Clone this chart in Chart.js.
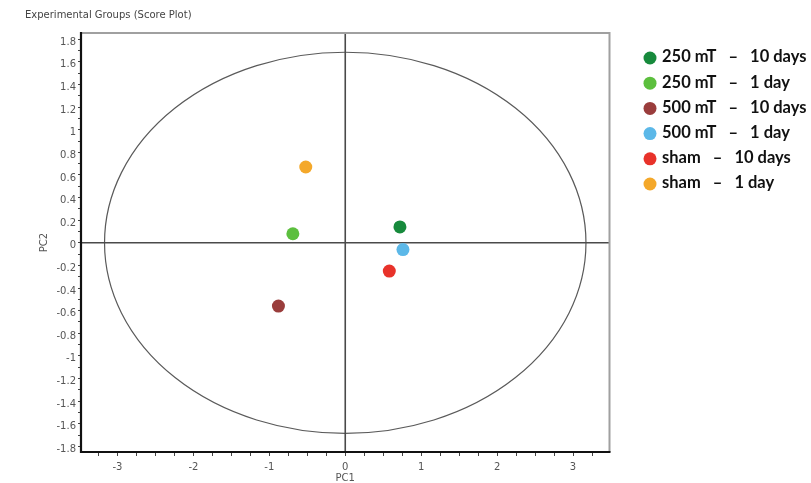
<!DOCTYPE html>
<html>
<head>
<meta charset="utf-8">
<title>Experimental Groups (Score Plot)</title>
<script src="https://cdn.jsdelivr.net/npm/chart.js@4.4.1/dist/chart.umd.min.js"></script>
<style>
  html, body { margin: 0; padding: 0; background: #ffffff; }
  #wrap { width: 811px; height: 483px; position: relative; }
</style>
</head>
<body>
<div id="wrap"><canvas id="score" width="811" height="483"></canvas></div>
<script>
// Score plot groups and their coordinates on the first two principal components
const groups = ['250 mT   \u2013   10 days', '250 mT   \u2013   1 day', '500 mT   \u2013   10 days',
                '500 mT   \u2013   1 day', 'sham   \u2013   10 days', 'sham   \u2013   1 day'];
const pc1 = [0.72, -0.69, -0.88, 0.76, 0.58, -0.52];
const pc2 = [0.14, 0.08, -0.56, -0.06, -0.25, 0.67];
const groupColors = ['#178a3c', '#5cbf3e', '#9a3d3c', '#5cb8e8', '#e8322a', '#f4a82a'];

// Hotelling T2 confidence ellipse (semi-axes in PC units)
const ellipseRx = 3.17;
const ellipseRy = 1.685;

// Axis ranges and tick positions
const xRange = [-3.48, 3.48];
const yRange = [-1.85, 1.855];
const xTickValues = [];
for (let i = -13; i <= 13; i++) xTickValues.push(i * 0.25);
const yTickValues = [];
for (let i = -18; i <= 18; i++) yTickValues.push(i / 10);

const TEXT_GREY = '#555555';

const datasets = groups.map((g, i) => ({
  label: g,
  data: [{ x: pc1[i], y: pc2[i] }],
  backgroundColor: groupColors[i],
  borderColor: groupColors[i],
  borderWidth: 0,
  pointRadius: 6.5,
  pointHoverRadius: 6.5
}));

// Ellipse, zero lines and plot frame
const decorations = {
  id: 'decorations',
  beforeDatasetsDraw(chart) {
    const { ctx, chartArea: a, scales: { x, y } } = chart;
    const cx = x.getPixelForValue(0);
    const cy = y.getPixelForValue(0);
    const rx = x.getPixelForValue(ellipseRx) - cx;
    const ry = cy - y.getPixelForValue(ellipseRy);
    ctx.save();
    ctx.strokeStyle = '#5a5a5a';
    ctx.lineWidth = 1.2;
    ctx.beginPath();
    ctx.ellipse(cx, cy, rx, ry, 0, 0, Math.PI * 2);
    ctx.stroke();

    ctx.strokeStyle = '#4a4a4a';
    ctx.lineWidth = 1.6;
    ctx.beginPath();
    ctx.moveTo(a.left, cy); ctx.lineTo(a.right, cy);
    ctx.moveTo(cx, a.top); ctx.lineTo(cx, a.bottom);
    ctx.stroke();

    ctx.strokeStyle = '#a0a0a0';
    ctx.lineWidth = 2;
    ctx.beginPath();
    ctx.moveTo(a.left, a.top); ctx.lineTo(a.right, a.top); ctx.lineTo(a.right, a.bottom);
    ctx.stroke();

    ctx.strokeStyle = '#111111';
    ctx.lineWidth = 2.2;
    ctx.beginPath();
    ctx.moveTo(a.left, a.top - 1); ctx.lineTo(a.left, a.bottom); ctx.lineTo(a.right + 1, a.bottom);
    ctx.stroke();
    ctx.restore();
  },
  afterDraw(chart) {
    const { ctx, chartArea: a } = chart;
    ctx.save();
    // chart title
    ctx.fillStyle = '#444444';
    ctx.font = '10px "DejaVu Sans"';
    ctx.textAlign = 'left';
    ctx.textBaseline = 'middle';
    ctx.fillText('Experimental Groups (Score Plot)', 25, 15);
    // axis titles
    ctx.fillStyle = TEXT_GREY;
    ctx.textAlign = 'center';
    ctx.fillText('PC1', (a.left + a.right) / 2, 478);
    ctx.translate(44, (a.top + a.bottom) / 2);
    ctx.rotate(-Math.PI / 2);
    ctx.fillText('PC2', 0, 0);
    ctx.restore();

    // legend
    ctx.save();
    ctx.font = 'bold 16.5px Lato';
    ctx.textBaseline = 'middle';
    ctx.textAlign = 'left';
    chart.data.datasets.forEach((ds, i) => {
      const yy = 57 + i * 25.2;
      ctx.fillStyle = ds.backgroundColor;
      ctx.beginPath();
      ctx.arc(650, yy + 1, 6.5, 0, Math.PI * 2);
      ctx.fill();
      ctx.fillStyle = '#111111';
      ctx.fillText(ds.label, 662, yy);
    });
    ctx.restore();
  }
};

new Chart(document.getElementById('score'), {
  type: 'scatter',
  data: { datasets },
  plugins: [decorations],
  options: {
    responsive: false,
    animation: false,
    layout: { padding: { left: 0, top: 33, right: 201.5, bottom: 0 } },
    plugins: { legend: { display: false }, tooltip: { enabled: false }, title: { display: false } },
    scales: {
      x: {
        type: 'linear',
        min: xRange[0], max: xRange[1],
        afterFit(s) { s.height = 31; },
        afterBuildTicks(s) { s.ticks = xTickValues.map(v => ({ value: v })); },
        border: { display: false },
        grid: { drawOnChartArea: false, drawTicks: true, tickLength: 4, color: '#444444', lineWidth: 1 },
        ticks: {
          autoSkip: false, maxRotation: 0, padding: 5,
          color: TEXT_GREY, font: { family: 'DejaVu Sans', size: 10 },
          callback: v => (Math.abs(v - Math.round(v)) < 1e-6 ? String(Math.round(v)) : '')
        }
      },
      y: {
        type: 'linear',
        min: yRange[0], max: yRange[1],
        afterFit(s) { s.width = 81; },
        afterBuildTicks(s) { s.ticks = yTickValues.map(v => ({ value: v })); },
        border: { display: false },
        grid: { drawOnChartArea: false, drawTicks: true, tickLength: 3, color: '#444444', lineWidth: 1 },
        ticks: {
          autoSkip: false, padding: 2, labelOffset: 3,
          color: TEXT_GREY, font: { family: 'DejaVu Sans', size: 10 },
          callback: v => {
            const k = Math.round(v * 10);
            return k % 2 === 0 ? String(Number((k / 10).toFixed(1))) : '';
          }
        }
      }
    }
  }
});
</script>
</body>
</html>
